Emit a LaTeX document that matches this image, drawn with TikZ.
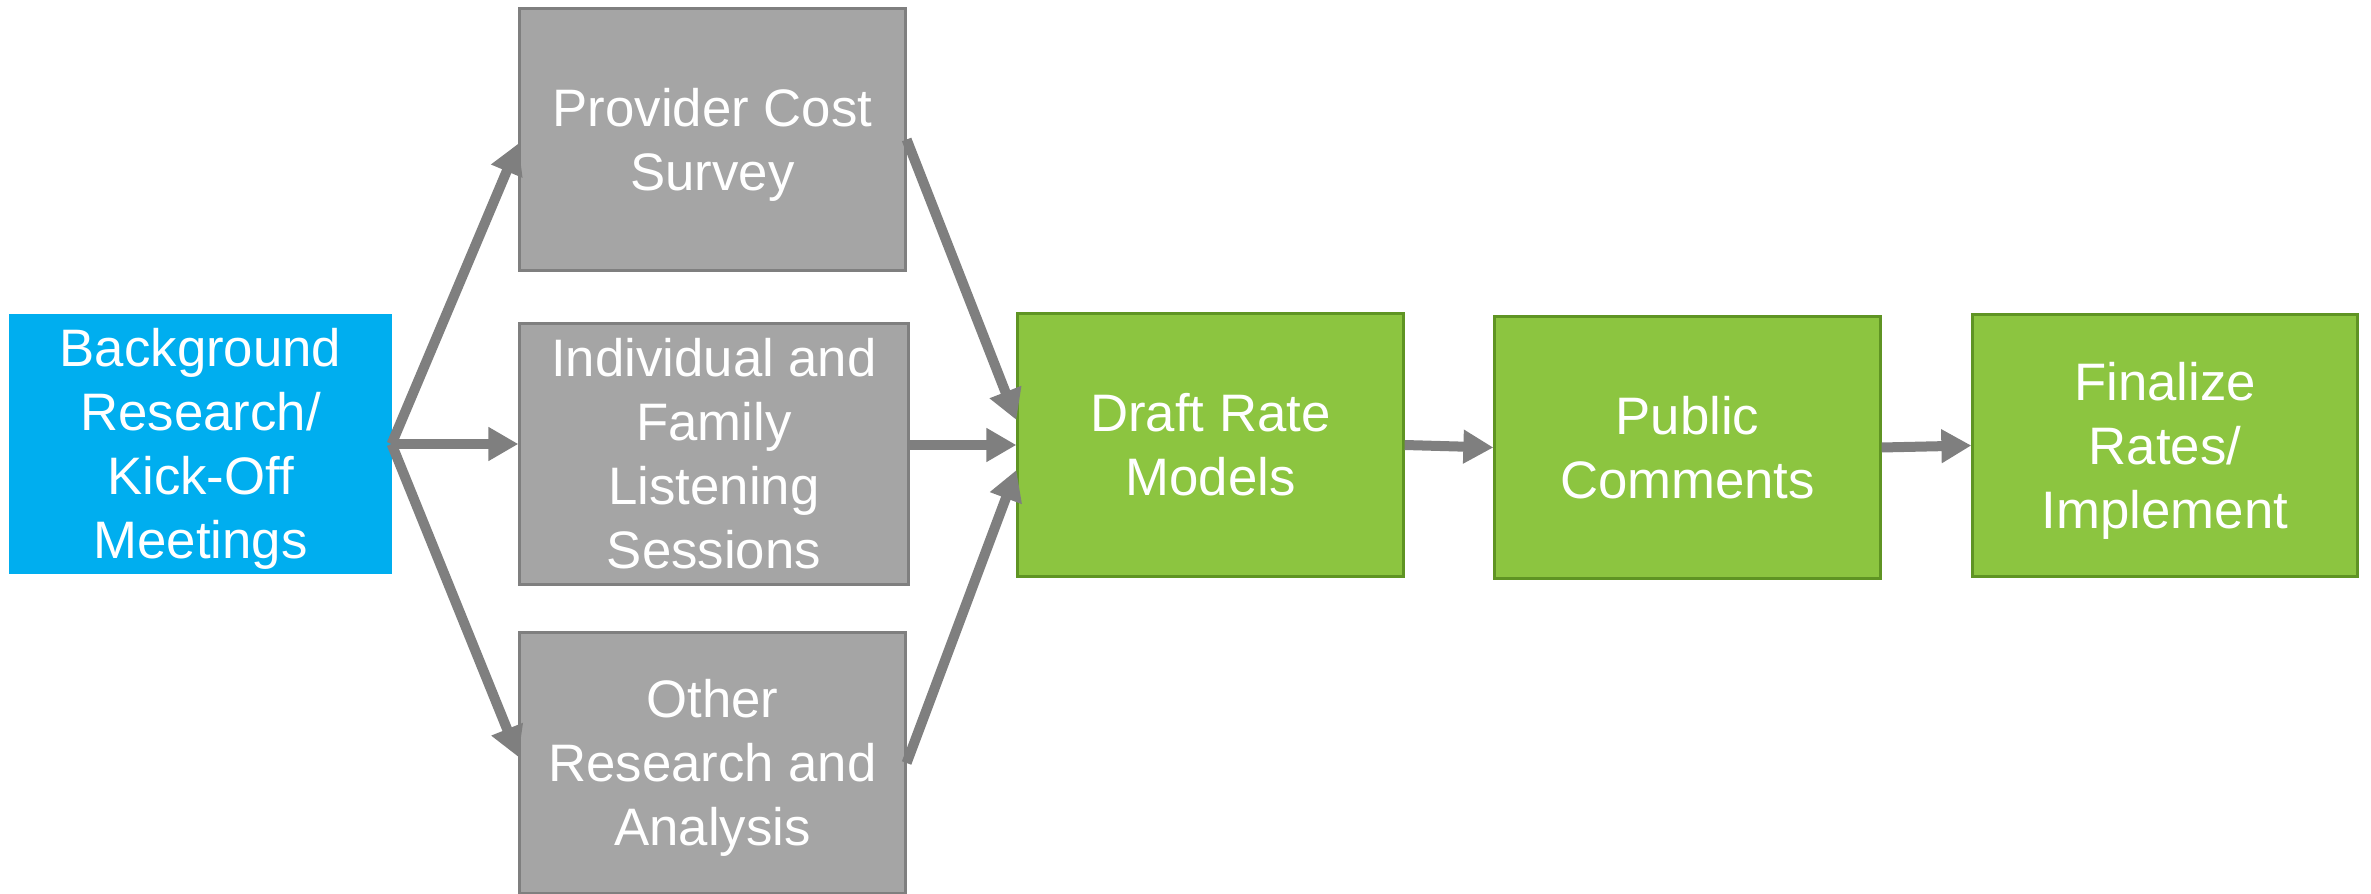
\documentclass[tikz,border=0pt]{standalone}
\usepackage{fontspec}
\setmainfont{Liberation Sans}
\usetikzlibrary{arrows.meta}
\definecolor{bluefill}{HTML}{00AEEF}
\definecolor{grayfill}{HTML}{A5A5A5}
\definecolor{grayline}{HTML}{7F7F7F}
\definecolor{greenfill}{HTML}{8CC540}
\definecolor{greenline}{HTML}{5F9423}
\newcommand{\boxtext}[1]{\raisebox{0pt}[\dimexpr\height+1.71pt\relax][\dimexpr\depth-1.71pt\relax]{\begin{tabular}{@{}c@{}}#1\end{tabular}}}
\tikzset{
  box/.style={rectangle, text=white, inner sep=0pt,
    font=\fontsize{15}{18.2}\selectfont, line width=0.03cm},
  bluebox/.style={box, fill=bluefill, draw=bluefill},
  graybox/.style={box, fill=grayfill, draw=grayline},
  greenbox/.style={box, fill=greenfill, draw=greenline},
  conn/.style={draw=grayline, line width=0.1cm, -{Triangle[length=0.3cm,width=0.32cm]}}
}
\begin{document}
\begin{tikzpicture}[x=0.01cm,y=-0.01cm]
\useasboundingbox (0,0) rectangle (2371,894);
\node[bluebox, minimum width=3.79cm, minimum height=2.56cm] (bg) at (200.5,444) {\boxtext{Background\\Research/\\Kick-Off\\Meetings}};
\node[graybox, minimum width=3.85cm, minimum height=2.61cm] (prov) at (712.5,139.5) {\boxtext{Provider Cost\\Survey}};
\node[graybox, minimum width=3.88cm, minimum height=2.60cm] (indiv) at (714,454) {\boxtext{Individual and\\Family\\Listening\\Sessions}};
\node[graybox, minimum width=3.85cm, minimum height=2.60cm] (other) at (712.5,763) {\boxtext{Other\\Research and\\Analysis}};
\node[greenbox, minimum width=3.85cm, minimum height=2.62cm] (draft) at (1210.5,445) {\boxtext{Draft Rate\\Models}};
\node[greenbox, minimum width=3.85cm, minimum height=2.61cm] (public) at (1687.5,447.5) {\boxtext{Public\\Comments}};
\node[greenbox, minimum width=3.84cm, minimum height=2.61cm] (final) at (2165,445.5) {\boxtext{Finalize\\Rates/\\Implement}};

\draw[conn] (bg.east) -- ([yshift=-0.04cm]prov.west);
\draw[conn] (bg.east) -- (bg.east -| indiv.west);
\draw[conn] (bg.east) -- ([yshift=0.06cm]other.west);
\draw[conn] (prov.east) -- ([yshift=0.25cm]draft.west);
\draw[conn] (indiv.east |- draft.west) -- (draft.west);
\draw[conn] (other.east) -- ([yshift=-0.25cm]draft.west);
\draw[conn] (draft.east) -- (public.west);
\draw[conn] (public.east) -- (final.west);
\end{tikzpicture}
\end{document}
